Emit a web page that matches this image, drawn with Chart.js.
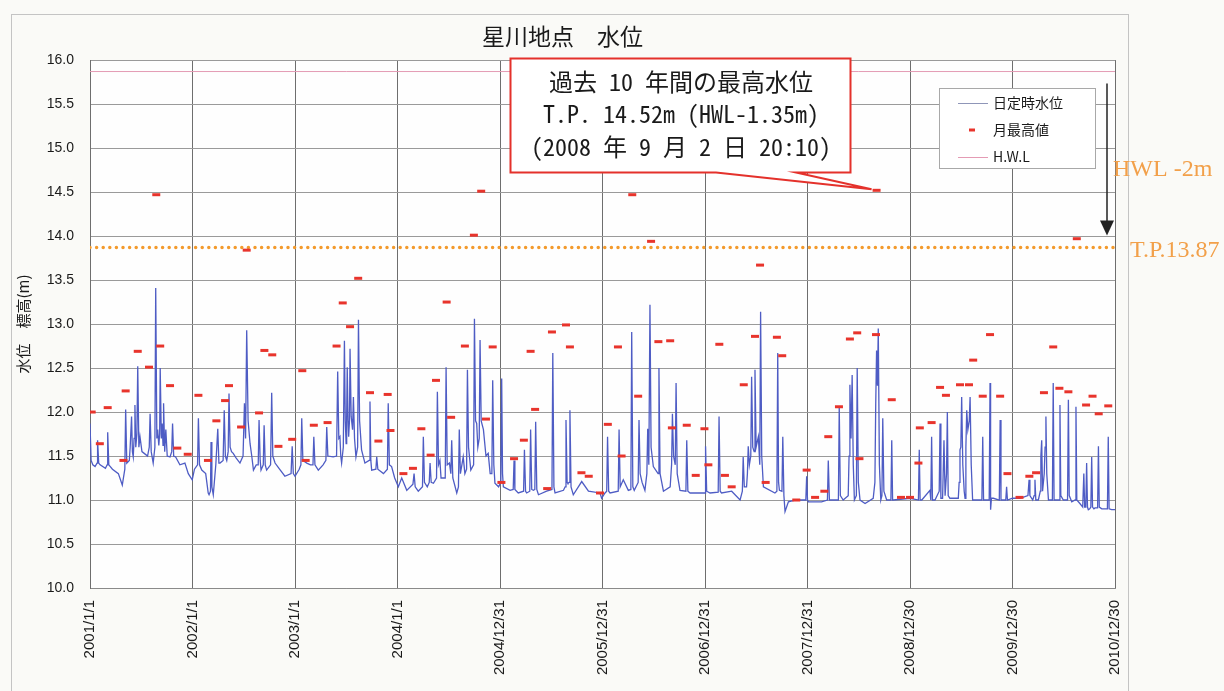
<!DOCTYPE html>
<html>
<head>
<meta charset="utf-8">
<script src="https://cdn.jsdelivr.net/npm/chart.js@4.4.1/dist/chart.umd.min.js"></script>
<style>
  html, body { margin: 0; padding: 0; background: #fafaf7; }
  #wrap { width: 1224px; height: 691px; }
</style>
</head>
<body>
<div id="wrap"><canvas id="chart" width="1224" height="691"></canvas></div>
<script>
// x axis: days counted from 2001/1/1, one tick each 365 days
const xTickDays = [0, 365, 730, 1095, 1460, 1825, 2190, 2555, 2920, 3285, 3650];
const xTickLabels = ["2001/1/1", "2002/1/1", "2003/1/1", "2004/1/1", "2004/12/31", "2005/12/31",
  "2006/12/31", "2007/12/31", "2008/12/30", "2009/12/30", "2010/12/30"];

// 日定時水位 [day, m] (troughs and peaks)
const level2001 = [[0, 11.87], [4, 11.45], [10, 11.40], [18, 11.38], [25, 11.42], [27, 11.68], [31, 11.42], [36, 11.40],
  [55, 11.36], [61, 11.40], [63, 11.77], [67, 11.40], [80, 11.35], [101, 11.30], [115, 11.17], [124, 11.35], [127, 12.03],
  [131, 11.42], [140, 11.45], [143, 11.60], [148, 11.95], [151, 11.55], [154, 11.49], [157, 11.70], [160, 12.08], [163, 11.60],
  [167, 11.75], [170, 12.52], [174, 11.60], [178, 11.72], [185, 11.55], [193, 11.53], [205, 11.50], [211, 11.60], [214, 11.98],
  [218, 11.55], [225, 11.42], [231, 11.60], [234, 13.41], [238, 11.70], [241, 11.80], [245, 11.62], [248, 11.75], [250, 12.50],
  [254, 11.70], [257, 11.87], [260, 11.62], [262, 12.10], [266, 11.55], [270, 11.80], [275, 11.50], [285, 11.49], [291, 11.55],
  [294, 11.87], [298, 11.50], [305, 11.49], [320, 11.40], [338, 11.42], [350, 11.30], [364, 11.23]];
const level2002 = [[372, 11.35], [383, 11.40], [386, 11.93], [390, 11.40], [398, 11.34], [412, 11.30], [421, 11.08], [424, 11.06],
  [429, 11.10], [431, 11.66], [434, 11.15], [439, 11.06], [448, 11.40], [455, 11.81], [459, 11.42], [463, 11.42], [474, 11.45],
  [478, 12.02], [482, 11.50], [487, 11.45], [492, 11.55], [495, 12.21], [499, 11.60], [504, 11.55], [510, 11.53], [520, 11.48],
  [534, 11.42], [545, 11.50], [550, 12.10], [554, 11.70], [558, 12.93], [563, 11.90], [570, 11.64], [576, 11.50], [582, 11.34],
  [592, 11.40], [599, 11.40], [602, 11.91], [606, 11.45], [609, 11.34], [617, 11.40], [620, 11.85], [624, 11.40], [629, 11.34],
  [643, 11.40], [647, 12.22], [651, 11.50], [659, 11.42], [675, 11.35], [694, 11.27], [716, 11.30], [720, 11.61], [724, 11.30]];
const level2003 = [[730, 11.27], [745, 11.35], [751, 11.40], [754, 11.93], [758, 11.45], [772, 11.42], [785, 11.40], [794, 11.40],
  [797, 11.72], [801, 11.40], [813, 11.34], [830, 11.40], [840, 11.45], [843, 11.83], [847, 11.50], [866, 11.49], [878, 11.50],
  [882, 12.46], [886, 11.70], [890, 11.72], [893, 11.50], [896, 11.42], [902, 11.60], [906, 12.81], [909, 11.90], [912, 11.64],
  [914, 11.95], [916, 12.51], [919, 11.90], [921, 11.72], [924, 11.90], [926, 12.72], [930, 11.95], [935, 11.80], [938, 12.17],
  [942, 11.70], [947, 11.49], [953, 11.60], [956, 13.05], [960, 11.90], [967, 11.57], [979, 11.42], [994, 11.45], [997, 12.12],
  [1000, 11.45], [1003, 11.34], [1018, 11.35], [1021, 11.49], [1025, 11.35], [1045, 11.30], [1059, 11.35], [1062, 12.10],
  [1066, 11.40], [1074, 11.38], [1085, 11.25]];
const level2004 = [[1098, 11.15], [1110, 11.25], [1128, 11.11], [1150, 11.18], [1154, 11.30], [1158, 11.15], [1169, 11.10],
  [1184, 11.15], [1187, 11.72], [1191, 11.20], [1201, 11.15], [1208, 11.20], [1211, 11.42], [1215, 11.20], [1223, 11.19],
  [1234, 11.25], [1237, 12.23], [1241, 11.40], [1246, 11.45], [1250, 11.25], [1265, 11.25], [1268, 12.51], [1272, 11.40],
  [1280, 11.42], [1285, 11.30], [1288, 11.68], [1292, 11.25], [1306, 11.08], [1312, 11.15], [1315, 11.80], [1319, 11.30],
  [1329, 11.49], [1335, 11.30], [1341, 11.35], [1344, 12.48], [1348, 11.60], [1356, 11.34], [1366, 11.40], [1369, 13.06],
  [1373, 11.90], [1377, 11.87], [1381, 11.60], [1386, 11.70], [1389, 12.82], [1393, 11.90], [1401, 11.80], [1410, 11.50],
  [1418, 11.53], [1425, 11.30], [1431, 11.30], [1434, 12.36], [1438, 11.40], [1442, 11.19], [1455, 11.15]];
const level2005 = [[1463, 11.20], [1466, 12.38], [1469, 11.30], [1472, 11.15], [1496, 11.11], [1507, 11.12], [1510, 11.45],
  [1513, 11.12], [1525, 11.08], [1544, 11.10], [1547, 11.57], [1551, 11.10], [1555, 11.08], [1566, 11.10], [1569, 11.80],
  [1573, 11.12], [1579, 11.11], [1584, 11.12], [1587, 11.89], [1591, 11.12], [1597, 11.06], [1626, 11.10], [1645, 11.12],
  [1648, 12.67], [1652, 11.15], [1656, 11.08], [1686, 11.11], [1692, 11.15], [1695, 11.91], [1699, 11.20], [1702, 11.19],
  [1706, 11.20], [1709, 12.02], [1713, 11.15], [1721, 11.06], [1751, 11.21], [1775, 11.10], [1816, 11.08]];
const level2006 = [[1822, 11.02], [1834, 11.08], [1840, 11.10], [1843, 11.72], [1847, 11.10], [1852, 11.08], [1881, 11.10],
  [1884, 11.80], [1888, 11.15], [1899, 11.23], [1917, 11.11], [1926, 11.12], [1929, 12.91], [1933, 11.15], [1938, 11.11],
  [1952, 11.20], [1955, 11.91], [1959, 11.30], [1966, 11.20], [1976, 11.11], [1983, 11.30], [1986, 11.81], [1990, 11.40],
  [1994, 13.22], [1998, 11.60], [2006, 11.38], [2023, 11.30], [2026, 12.50], [2030, 11.30], [2042, 11.10], [2066, 11.15],
  [2071, 11.40], [2074, 11.98], [2078, 11.50], [2084, 11.40], [2087, 12.33], [2091, 11.30], [2101, 11.11], [2122, 11.10],
  [2125, 11.68], [2129, 11.10], [2137, 11.08], [2190, 11.08]];
const level2007 = [[2192, 11.61], [2196, 11.10], [2208, 11.08], [2237, 11.09], [2240, 11.95], [2244, 11.10], [2249, 11.08],
  [2285, 11.10], [2315, 11.00], [2323, 11.10], [2326, 11.49], [2330, 11.15], [2338, 11.15], [2341, 11.30], [2344, 11.61],
  [2348, 11.40], [2353, 11.50], [2356, 12.40], [2360, 11.60], [2365, 11.55], [2368, 12.48], [2372, 11.60], [2380, 11.72],
  [2385, 11.40], [2388, 13.14], [2392, 11.50], [2398, 11.15], [2439, 11.08], [2446, 11.10], [2449, 12.67], [2452, 11.20],
  [2455, 11.11], [2464, 11.10], [2467, 11.72], [2471, 11.05], [2475, 10.87], [2487, 10.98], [2511, 11.00], [2549, 11.00],
  [2552, 11.27], [2555, 11.00]];
const level2008 = [[2558, 10.98], [2605, 10.98], [2626, 11.00], [2629, 11.45], [2633, 11.00], [2641, 11.00], [2665, 11.00],
  [2668, 12.06], [2672, 11.05], [2682, 11.00], [2700, 11.05], [2703, 11.50], [2706, 12.31], [2710, 11.70], [2714, 12.42],
  [2718, 11.40], [2722, 11.00], [2729, 11.05], [2732, 12.50], [2736, 11.20], [2742, 11.00], [2760, 10.96], [2789, 11.02],
  [2795, 11.20], [2798, 12.10], [2801, 12.70], [2804, 12.30], [2807, 12.95], [2811, 11.40], [2816, 11.00], [2820, 11.05],
  [2823, 11.93], [2827, 11.10], [2837, 11.00], [2852, 11.00], [2855, 11.68], [2858, 11.00], [2861, 11.00], [2920, 11.02]];
const level2009 = [[2950, 11.00], [2953, 11.57], [2956, 11.00], [2962, 11.00], [2991, 11.11], [2994, 11.00], [2997, 11.72],
  [3000, 11.00], [3009, 11.00], [3024, 11.10], [3027, 11.87], [3030, 11.02], [3036, 11.02], [3041, 11.68], [3045, 11.05],
  [3050, 11.30], [3053, 12.00], [3056, 11.05], [3062, 11.02], [3092, 11.02], [3095, 11.20], [3098, 11.57], [3101, 11.60],
  [3104, 12.17], [3108, 11.40], [3113, 11.10], [3116, 11.02], [3119, 11.60], [3122, 12.02], [3126, 11.80], [3131, 11.90],
  [3134, 12.17], [3138, 11.40], [3143, 11.00], [3146, 11.00], [3176, 11.00], [3179, 11.72], [3182, 11.00], [3187, 11.00],
  [3202, 11.00], [3205, 12.33], [3207, 10.89], [3210, 11.02], [3217, 11.02], [3238, 11.00], [3241, 11.91], [3244, 11.00],
  [3247, 11.00], [3261, 11.00], [3264, 11.15], [3267, 11.00], [3285, 11.02]];
const level2010 = [[3312, 11.02], [3340, 11.05], [3344, 11.23], [3347, 11.05], [3357, 11.00], [3362, 11.05], [3365, 11.23],
  [3368, 11.00], [3377, 11.00], [3384, 11.10], [3386, 11.50], [3389, 11.68], [3392, 11.10], [3398, 11.30], [3401, 11.60],
  [3404, 11.95], [3407, 11.30], [3413, 11.00], [3416, 11.00], [3427, 11.00], [3430, 12.33], [3433, 11.00], [3440, 11.00],
  [3451, 11.00], [3454, 12.08], [3457, 11.05], [3466, 11.00], [3481, 11.00], [3484, 12.14], [3487, 11.05], [3496, 10.98],
  [3508, 11.00], [3511, 12.06], [3514, 11.00], [3525, 10.96], [3535, 10.92], [3539, 11.30], [3542, 10.92], [3546, 10.92],
  [3549, 11.42], [3552, 10.92], [3555, 10.89], [3560, 10.90], [3564, 10.92], [3567, 11.49], [3570, 10.92], [3575, 10.90],
  [3579, 10.91], [3588, 10.91], [3591, 11.61], [3594, 10.92], [3603, 10.90], [3623, 10.90], [3626, 11.72], [3629, 10.90],
  [3638, 10.89], [3650, 10.89]];

// 月最高値: day of the monthly maximum and its value, Jan 2001 .. Dec 2010
const maxDays = [6, 35, 63, 119, 127, 170, 210, 236, 250, 285, 311, 348,
  386, 420, 450, 481, 495, 538, 558, 602, 621, 649, 671, 720,
  756, 768, 797, 846, 878, 900, 926, 955, 997, 1027, 1060, 1070,
  1116, 1150, 1180, 1213, 1232, 1270, 1286, 1335, 1367, 1393, 1410, 1434,
  1465, 1510, 1545, 1569, 1585, 1628, 1645, 1695, 1709, 1750, 1776, 1816,
  1844, 1880, 1893, 1931, 1952, 1998, 2024, 2066, 2072, 2125, 2157, 2188,
  2202, 2241, 2261, 2285, 2328, 2368, 2386, 2406, 2446, 2465, 2515, 2552,
  2582, 2615, 2629, 2667, 2706, 2732, 2740, 2799, 2801, 2855, 2888, 2920,
  2950, 2955, 2997, 3027, 3048, 3098, 3130, 3145, 3179, 3205, 3241, 3267,
  3310, 3345, 3369, 3397, 3430, 3452, 3484, 3514, 3547, 3570, 3592, 3626];
const maxValues = [12.00, 11.64, 12.05, 11.45, 12.24, 12.69, 12.51, 14.47, 12.75, 12.30, 11.59, 11.52,
  12.19, 11.45, 11.90, 12.13, 12.30, 11.83, 13.84, 11.99, 12.70, 12.65, 11.61, 11.69,
  12.47, 11.45, 11.85, 11.88, 12.75, 13.24, 12.97, 13.52, 12.22, 11.67, 12.20, 11.79,
  11.30, 11.36, 11.81, 11.51, 12.36, 13.25, 11.94, 12.75, 14.01, 14.51, 11.92, 12.74,
  11.20, 11.47, 11.68, 12.69, 12.03, 11.13, 12.91, 12.99, 12.74, 11.31, 11.27, 11.08,
  11.86, 12.74, 11.50, 14.47, 12.18, 13.94, 12.80, 12.81, 11.82, 11.85, 11.28, 11.81,
  11.40, 12.77, 11.28, 11.15, 12.31, 12.86, 13.67, 11.20, 12.85, 12.64, 11.00, 11.34,
  11.03, 11.10, 11.72, 12.06, 12.83, 12.90, 11.47, 12.88, 14.52, 12.14, 11.03, 11.03,
  11.42, 11.82, 11.88, 12.28, 12.19, 12.31, 12.31, 12.59, 12.18, 12.88, 12.18, 11.30,
  11.03, 11.27, 11.31, 12.22, 12.74, 12.27, 12.23, 13.97, 12.08, 12.18, 11.98, 12.07];

const hwl = 15.87;
const hwlMinus2 = 13.87;
const peakDay = 2801;
const peakValue = 14.52;
const noteLines = ["過去 10 年間の最高水位", "T.P. 14.52m (HWL-1.35m)", "(2008 年 9 月 2 日 20:10)"];

const levelPoints = [].concat(level2001, level2002, level2003, level2004, level2005,
  level2006, level2007, level2008, level2009, level2010);

const JP = '"Noto Sans CJK JP", "Noto Sans", sans-serif';
const SANS = '"Liberation Sans", Arial, sans-serif';

const backdrop = {
  id: "backdrop",
  beforeDraw(chart) {
    const { ctx, chartArea: a } = chart;
    ctx.save();
    ctx.fillStyle = "#fafaf7";
    ctx.fillRect(0, 0, chart.width, chart.height);
    ctx.strokeStyle = "#c4c4c4";
    ctx.lineWidth = 1;
    ctx.strokeRect(11.5, 14.5, 1117, 700);
    ctx.fillStyle = "#fefefe";
    ctx.fillRect(a.left, a.top, a.right - a.left, a.bottom - a.top);
    ctx.restore();
  },
};

const notes = {
  id: "notes",
  afterDraw(chart) {
    const { ctx } = chart;
    const x = chart.scales.x, y = chart.scales.y;
    ctx.save();

    // arrow HWL -> HWL-2m
    const ax = 1107, y0 = y.getPixelForValue(hwl) + 12, y1 = y.getPixelForValue(hwlMinus2) - 12;
    ctx.strokeStyle = "#222";
    ctx.fillStyle = "#222";
    ctx.lineWidth = 1.5;
    ctx.beginPath();
    ctx.moveTo(ax, y0);
    ctx.lineTo(ax, y1 - 12);
    ctx.stroke();
    ctx.beginPath();
    ctx.moveTo(ax - 7, y1 - 15);
    ctx.lineTo(ax + 7, y1 - 15);
    ctx.lineTo(ax, y1);
    ctx.closePath();
    ctx.fill();

    // right hand labels
    ctx.fillStyle = "#f2a04a";
    ctx.font = '24px "Liberation Serif", "DejaVu Serif", serif';
    ctx.textAlign = "left";
    ctx.textBaseline = "middle";
    ctx.fillText("HWL -2m", 1113, 170);
    ctx.fillText("T.P.13.87", 1130, y.getPixelForValue(hwlMinus2) + 3);

    // callout
    const tipX = x.getPixelForValue(peakDay) - 5, tipY = y.getPixelForValue(peakValue) - 1;
    const bx0 = 510.5, by0 = 58.5, bx1 = 850.5, by1 = 172.5;
    ctx.beginPath();
    ctx.moveTo(bx0, by0);
    ctx.lineTo(bx1, by0);
    ctx.lineTo(bx1, by1);
    ctx.lineTo(796, by1);
    ctx.lineTo(tipX, tipY);
    ctx.lineTo(716, by1);
    ctx.lineTo(bx0, by1);
    ctx.closePath();
    ctx.fillStyle = "#ffffff";
    ctx.fill();
    ctx.strokeStyle = "#e4312b";
    ctx.lineWidth = 2;
    ctx.stroke();
    ctx.fillStyle = "#1a1a1a";
    ctx.textAlign = "center";
    ctx.font = '500 24px "Noto Sans Mono CJK JP", ' + JP;
    ctx.fillText(noteLines[0], 681, 82);
    ctx.font = '24px "Noto Sans Mono CJK JP", ' + JP;
    ctx.fillText(noteLines[1], 681, 114);
    ctx.fillText(noteLines[2], 681, 147);

    // legend box
    ctx.fillStyle = "#ffffff";
    ctx.fillRect(939.5, 88.5, 156, 80);
    ctx.strokeStyle = "#a8a8a8";
    ctx.lineWidth = 1;
    ctx.strokeRect(939.5, 88.5, 156, 80);
    ctx.font = "14px " + JP;
    ctx.textAlign = "left";
    const items = chart.data.datasets.filter((d) => d.inLegend);
    items.forEach((d, i) => {
      const ly = 103 + i * 27;
      ctx.strokeStyle = d.legendColor || d.borderColor;
      if (d.showLine === false) {
        ctx.lineWidth = 3;
        ctx.beginPath();
        ctx.moveTo(969, ly);
        ctx.lineTo(975, ly);
        ctx.stroke();
      } else {
        ctx.lineWidth = 1;
        ctx.beginPath();
        ctx.moveTo(958, ly + 0.5);
        ctx.lineTo(988, ly + 0.5);
        ctx.stroke();
      }
      ctx.fillStyle = "#1a1a1a";
      ctx.fillText(d.label, 993, ly);
    });
    ctx.restore();
  },
};

new Chart(document.getElementById("chart"), {
  type: "line",
  data: {
    datasets: [
      {
        label: "日定時水位",
        inLegend: true,
        legendColor: "#8f96b8",
        data: levelPoints.map((p) => ({ x: p[0], y: p[1] })),
        borderColor: "#4e5cc4",
        borderWidth: 1.3,
        pointRadius: 0,
        tension: 0,
        order: 3,
      },
      {
        label: "月最高値",
        inLegend: true,
        data: maxDays.map((d, i) => ({ x: d, y: maxValues[i] })),
        showLine: false,
        borderColor: "#e8342c",
        backgroundColor: "#e8342c",
        pointStyle: "line",
        pointRadius: 4,
        pointBorderWidth: 3,
        order: 1,
      },
      {
        label: "H.W.L",
        inLegend: true,
        data: [{ x: 0, y: hwl }, { x: 3650, y: hwl }],
        borderColor: "#e49bb4",
        borderWidth: 1,
        pointRadius: 0,
        order: 4,
      },
      {
        label: "HWL-2m",
        inLegend: false,
        data: [{ x: 0, y: hwlMinus2 }, { x: 3650, y: hwlMinus2 }],
        borderColor: "#f39a2c",
        borderWidth: 3.5,
        borderDash: [0, 6.6],
        borderCapStyle: "round",
        pointRadius: 0,
        order: 2,
      },
    ],
  },
  options: {
    responsive: false,
    animation: false,
    layout: { padding: { left: 10, right: 109, top: 22, bottom: 0 } },
    plugins: {
      legend: { display: false },
      tooltip: { enabled: false },
      title: {
        display: true,
        text: "星川地点　水位",
        color: "#1a1a1a",
        font: { family: JP, size: 23, weight: "normal" },
        padding: { top: 0, bottom: 10.5 },
      },
    },
    scales: {
      x: {
        type: "linear",
        min: 0,
        max: 3650,
        afterBuildTicks: (s) => { s.ticks = xTickDays.map((v) => ({ value: v })); },
        afterFit: (s) => { s.height = 103; },
        ticks: {
          autoSkip: false,
          minRotation: 90,
          maxRotation: 90,
          padding: 12,
          color: "#1a1a1a",
          font: { family: SANS, size: 15 },
          callback: (v, i) => xTickLabels[i],
        },
        grid: { color: "#6e6e6e", drawTicks: false },
        border: { color: "#8a8a8a" },
      },
      y: {
        min: 10,
        max: 16,
        afterFit: (s) => { s.width = 80; },
        ticks: {
          stepSize: 0.5,
          padding: 16,
          color: "#1a1a1a",
          font: { family: SANS, size: 14 },
          callback: (v) => Number(v).toFixed(1),
        },
        grid: { color: "#9a9a9a", drawTicks: false },
        border: { color: "#6e6e6e" },
        title: {
          display: true,
          text: "水位　標高(m)",
          color: "#1a1a1a",
          font: { family: JP, size: 15 },
        },
      },
    },
  },
  plugins: [backdrop, notes],
});
</script>
</body>
</html>
